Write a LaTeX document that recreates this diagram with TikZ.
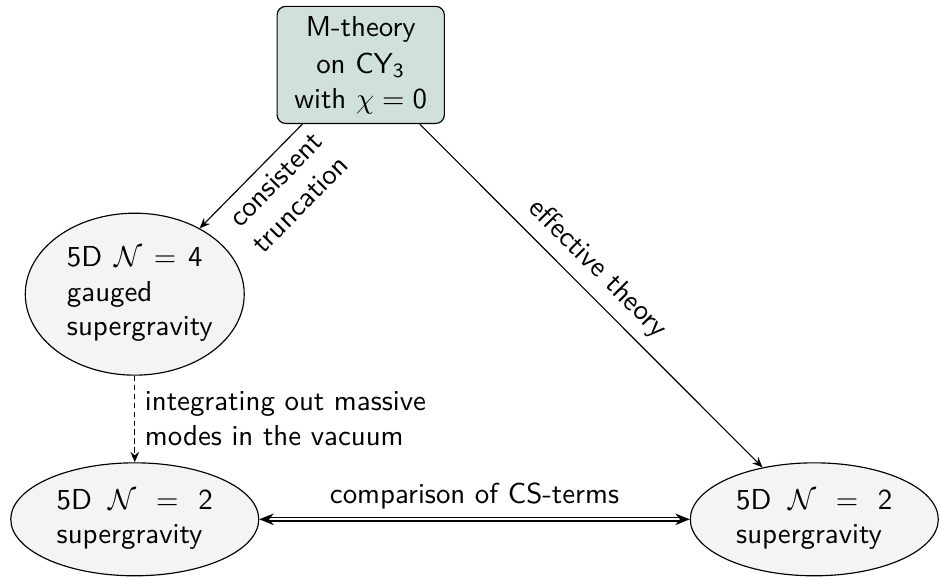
\documentclass[tikz,border=0pt]{standalone}
\usepackage{amsmath, amssymb}
\usepackage{tikz}
\usetikzlibrary{arrows.meta,positioning,shapes.geometric}
\definecolor{boxgreen}{RGB}{208,225,221}
\definecolor{ellgray}{RGB}{244,244,242}
\hyphenpenalty=10000
\relpenalty=10000

\begin{document}
\begin{tikzpicture}[>={Stealth[length=3.6pt,width=3pt]},
    font=\sffamily,
    theory/.style={draw, fill=boxgreen, rounded corners=3pt, align=center, inner xsep=6pt},
    sugra/.style={draw, ellipse, fill=ellgray, align=justify, text width=1.9cm, inner sep=3.33pt}]
    \useasboundingbox (0,0) rectangle (11.44,7.03);

    \node[theory] (M) at (4.39,6.24) {M-theory\\[1pt] on CY$_{\mathsf{3}}$\\ with $\chi=\mathsf{0}$};
    \node[sugra, text width=1.65cm] (G) at (1.64,3.45) {5D $\mathcal{N}=\mathsf{4}$ gauged supergravity};
    \node[sugra] (L) at (1.64,0.71) {5D $\mathcal{N}=\mathsf{2}$ supergravity};
    \node[sugra] (R) at (9.91,0.71) {5D $\mathcal{N}=\mathsf{2}$ supergravity};

    \draw[->] (M) -- (G) node[pos=0.4, sloped, below, align=center] {consistent\\ truncation};
    \draw[->] (M) -- (R) node[pos=0.47, sloped, above] {effective theory};
    \draw[->, dash pattern=on 1.8pt off 1.3pt] (G) -- (L)
        node[midway, right, align=left] {integrating out massive\\ modes in the vacuum};
    \draw[{Stealth[length=5pt,width=4pt]}-{Stealth[length=5pt,width=4pt]}, double, double distance=0.8pt] (L) -- (R)
        node[midway, above] {comparison of CS-terms};
\end{tikzpicture}
\end{document}
